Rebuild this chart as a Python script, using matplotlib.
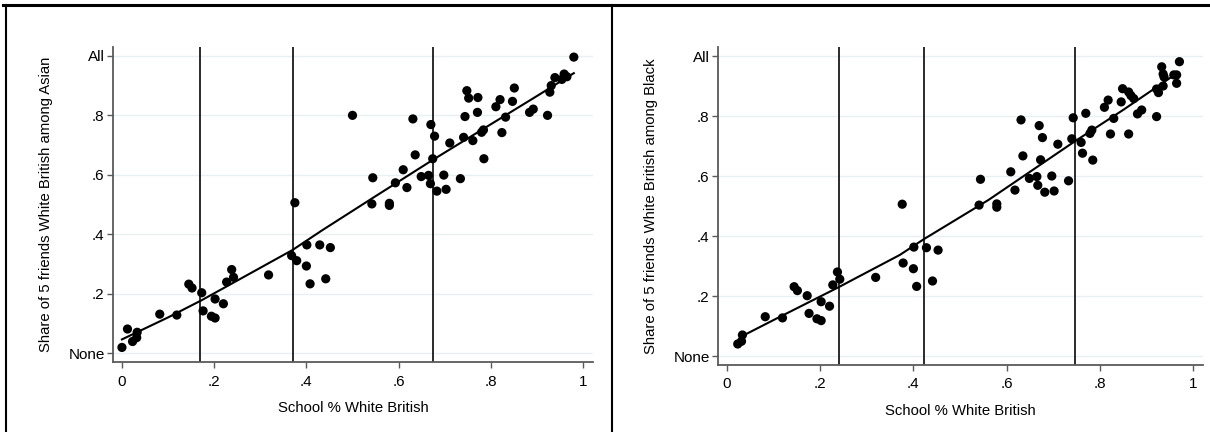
#!/usr/bin/env python3
"""Share of 5 friends White British vs school % White British, Asian and Black pupils."""
import matplotlib
matplotlib.use("Agg")
import matplotlib.pyplot as plt
from matplotlib.lines import Line2D

plt.rcParams["font.family"] = ["Liberation Sans", "DejaVu Sans"]

# ---- panel 1: Asian ----
asian_x = [0.000, 0.012, 0.023, 0.032, 0.033, 0.082, 0.119, 0.145, 0.152, 0.173,
           0.176, 0.194, 0.202, 0.202, 0.220, 0.227, 0.238, 0.242, 0.318, 0.368,
           0.379, 0.375, 0.400, 0.401, 0.408, 0.429, 0.442, 0.452, 0.500, 0.542,
           0.580, 0.580, 0.631, 0.670, 0.678, 0.636, 0.610, 0.544, 0.593, 0.618,
           0.649, 0.665, 0.669, 0.674, 0.683, 0.698, 0.703, 0.711, 0.734, 0.741,
           0.744, 0.748, 0.752, 0.761, 0.771, 0.772, 0.780, 0.784, 0.785, 0.811,
           0.820, 0.824, 0.832, 0.847, 0.851, 0.884, 0.892, 0.923, 0.928, 0.931,
           0.939, 0.954, 0.959, 0.965, 0.980]
asian_y = [0.019, 0.081, 0.039, 0.052, 0.070, 0.131, 0.128, 0.232, 0.219, 0.203,
           0.142, 0.124, 0.118, 0.182, 0.166, 0.239, 0.281, 0.255, 0.263, 0.328,
           0.311, 0.506, 0.293, 0.364, 0.233, 0.364, 0.250, 0.355, 0.800, 0.502,
           0.504, 0.497, 0.788, 0.769, 0.730, 0.667, 0.617, 0.590, 0.573, 0.557,
           0.594, 0.598, 0.570, 0.654, 0.545, 0.599, 0.551, 0.707, 0.587, 0.726,
           0.796, 0.883, 0.858, 0.715, 0.810, 0.860, 0.743, 0.751, 0.654, 0.829,
           0.853, 0.742, 0.794, 0.847, 0.892, 0.810, 0.821, 0.800, 0.878, 0.900,
           0.927, 0.921, 0.939, 0.930, 0.996]
asian_fit_x = [0.0, 0.10, 0.173, 0.25, 0.37, 0.435, 0.55, 0.674, 0.80, 0.90, 0.98]
asian_fit_y = [0.046, 0.120, 0.178, 0.244, 0.347, 0.414, 0.528, 0.650, 0.770, 0.865, 0.942]
asian_cuts = [0.169, 0.371, 0.675]

# ---- panel 2: Black ----
black_x = [0.023, 0.033, 0.031, 0.082, 0.119, 0.144, 0.151, 0.172, 0.176, 0.193,
           0.202, 0.202, 0.220, 0.227, 0.237, 0.242, 0.319, 0.376, 0.378, 0.400,
           0.401, 0.407, 0.428, 0.441, 0.453, 0.541, 0.579, 0.579, 0.544, 0.609,
           0.618, 0.631, 0.635, 0.649, 0.665, 0.667, 0.670, 0.673, 0.677, 0.682,
           0.697, 0.702, 0.710, 0.733, 0.740, 0.743, 0.760, 0.763, 0.770, 0.779,
           0.783, 0.785, 0.810, 0.818, 0.823, 0.830, 0.846, 0.849, 0.862, 0.867,
           0.873, 0.862, 0.881, 0.890, 0.922, 0.922, 0.926, 0.933, 0.936, 0.938,
           0.936, 0.959, 0.965, 0.965, 0.971]
black_y = [0.040, 0.070, 0.049, 0.131, 0.127, 0.231, 0.218, 0.201, 0.142, 0.124,
           0.118, 0.181, 0.166, 0.237, 0.280, 0.256, 0.262, 0.506, 0.310, 0.291,
           0.363, 0.232, 0.361, 0.250, 0.353, 0.503, 0.507, 0.496, 0.589, 0.614,
           0.553, 0.787, 0.667, 0.592, 0.598, 0.569, 0.768, 0.654, 0.728, 0.546,
           0.600, 0.550, 0.706, 0.584, 0.724, 0.794, 0.712, 0.676, 0.809, 0.742,
           0.753, 0.653, 0.829, 0.853, 0.740, 0.792, 0.847, 0.891, 0.880, 0.868,
           0.858, 0.740, 0.807, 0.820, 0.798, 0.890, 0.878, 0.964, 0.940, 0.930,
           0.900, 0.937, 0.937, 0.909, 0.981]
black_fit_x = [0.037, 0.10, 0.239, 0.371, 0.423, 0.457, 0.561, 0.745, 0.85, 0.968]
black_fit_y = [0.070, 0.120, 0.229, 0.337, 0.390, 0.422, 0.520, 0.714, 0.820, 0.945]
black_cuts = [0.240, 0.423, 0.747]

yticks = [0, 0.2, 0.4, 0.6, 0.8, 1.0]
ytick_labels = ["None", ".2", ".4", ".6", ".8", "All"]
xticks = [0, 0.2, 0.4, 0.6, 0.8, 1.0]
xtick_labels = ["0", ".2", ".4", ".6", ".8", "1"]

W, H = 1210, 432
AXIS_COL = "#5a5a5a"
GRID_COL = "#e8f0f2"


def px_rect(x0, x1, ytop, ybot):
    return [x0 / W, (H - ybot) / H, (x1 - x0) / W, (ybot - ytop) / H]


def panel(fig, rect, xs, ys, fx, fy, cuts, ylabel):
    ax = fig.add_axes(rect)
    ax.set_xlim(-0.0194, 1.0216)
    ax.set_ylim(-0.03, 1.03)
    for t in yticks:
        ax.axhline(t, color=GRID_COL, lw=1.0, zorder=0)
    for c in cuts:
        ax.axvline(c, color="#1a1a1a", lw=1.3, zorder=1)
    ax.scatter(xs, ys, s=44, color="black", edgecolors="none", zorder=3)
    ax.plot(fx, fy, color="black", lw=1.5, zorder=4)
    ax.set_yticks(yticks, ytick_labels)
    ax.set_xticks(xticks, xtick_labels)
    for s in ("top", "right"):
        ax.spines[s].set_visible(False)
    for s in ("left", "bottom"):
        ax.spines[s].set_color(AXIS_COL)
        ax.spines[s].set_linewidth(1.3)
    ax.tick_params(direction="out", length=4, width=1.0, color=AXIS_COL,
                   labelsize=11, labelcolor="black", pad=2)
    ax.tick_params(axis="x", pad=5)
    ax.set_xlabel("School % White British", fontsize=10.7, labelpad=9)
    ax.set_ylabel(ylabel, fontsize=10.7, labelpad=11)
    return ax


fig = plt.figure(figsize=(12.1, 4.32), dpi=100)
fig.patch.set_facecolor("white")

panel(fig, px_rect(113, 593, 47, 362), asian_x, asian_y, asian_fit_x, asian_fit_y,
      asian_cuts, "Share of 5 friends White British among Asian")
panel(fig, px_rect(718, 1203, 47, 365), black_x, black_y, black_fit_x, black_fit_y,
      black_cuts, "Share of 5 friends White British among Black")

# table-like frame around the two panels
fig.add_artist(Line2D([3 / W, 1.0], [(H - 5) / H] * 2, color="black", lw=2.2))
fig.add_artist(Line2D([6 / W] * 2, [0, (H - 5) / H], color="black", lw=1.5))
fig.add_artist(Line2D([612 / W] * 2, [0, (H - 5) / H], color="black", lw=1.5))

fig.savefig("out.png", dpi=100, facecolor="white")
